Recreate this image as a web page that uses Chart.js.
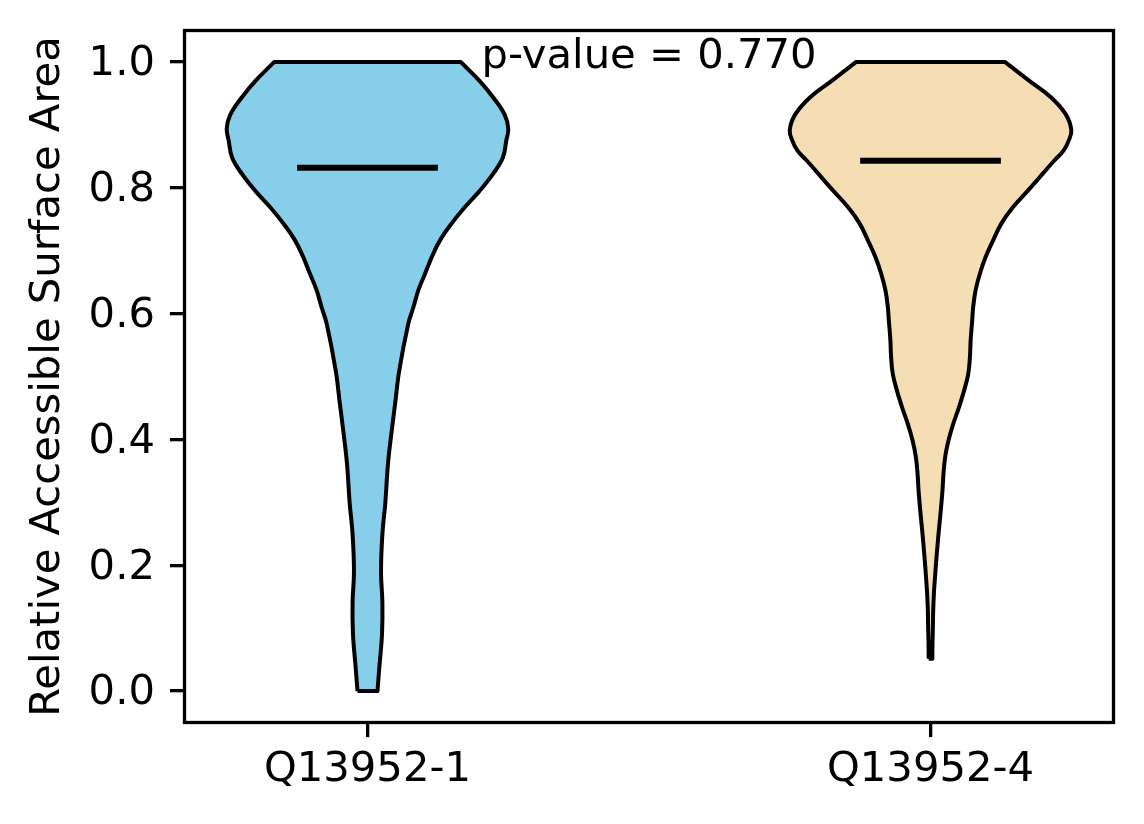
<!DOCTYPE html>
<html>
<head>
<meta charset="utf-8">
<script src="https://cdn.jsdelivr.net/npm/chart.js@4.4.0/dist/chart.umd.min.js"></script>
<style>
html,body{margin:0;padding:0;background:#ffffff;}
canvas{display:block;}
</style>
</head>
<body>
<canvas id="c" width="1144" height="824"></canvas>
<script>
// ---------------- data ----------------
const categories = ['Q13952-1', 'Q13952-4'];
const positions = [1, 2];
const yTicks = [0.0, 0.2, 0.4, 0.6, 0.8, 1.0];

// violin 1 (Q13952-1): y values (bottom -> top) and relative density (max = 1)
const v1Y = [0.0, 0.04, 0.09, 0.14, 0.19, 0.25, 0.30, 0.36, 0.41, 0.46, 0.51, 0.584, 0.610, 0.637,
             0.663, 0.689, 0.716, 0.743, 0.769, 0.795, 0.822, 0.848, 0.875, 0.894, 0.917, 0.944, 0.970, 1.0];
const v1Density = [0.071, 0.085, 0.103, 0.106, 0.096, 0.106, 0.127, 0.145, 0.170, 0.198, 0.226, 0.290, 0.326, 0.361,
                   0.408, 0.455, 0.514, 0.597, 0.691, 0.797, 0.892, 0.962, 0.986, 1.0, 0.973, 0.892, 0.796, 0.662];

// violin 2 (Q13952-4)
const v2Y = [0.0515, 0.075, 0.102, 0.128, 0.155, 0.181, 0.208, 0.250, 0.280, 0.319, 0.345, 0.372, 0.398,
             0.425, 0.451, 0.478, 0.504, 0.531, 0.557, 0.589, 0.610, 0.637, 0.663, 0.689, 0.716, 0.743,
             0.769, 0.795, 0.822, 0.843, 0.859, 0.875, 0.892, 0.917, 0.944, 0.970, 1.0];
const v2Density = [0.013, 0.014, 0.017, 0.019, 0.024, 0.032, 0.041, 0.057, 0.070, 0.085, 0.092, 0.104, 0.127,
                   0.162, 0.202, 0.239, 0.268, 0.280, 0.285, 0.296, 0.303, 0.320, 0.350, 0.390, 0.444, 0.503,
                   0.585, 0.690, 0.796, 0.878, 0.945, 0.982, 1.0, 0.960, 0.855, 0.702, 0.528];

const medians = [0.832, 0.843];
const pValueText = 'p-value = 0.770';
const pValueAt = [1.5, 0.99];
const yLabel = 'Relative Accessible Surface Area';

// ---------------- styling ----------------
const FONT = 41.7;
const VIOLIN_WIDTH = 0.5;
const MEDIAN_WIDTH = 0.25;
const colors = ['#87CEEB', '#F5DEB3'];

Chart.defaults.font.family = '"DejaVu Sans", sans-serif';
Chart.defaults.font.size = FONT;
Chart.defaults.color = '#000000';

function outline(pos, ys, dens) {
  const n = ys.length;
  const left = ys.map((y, i) => ({x: pos - dens[i] * VIOLIN_WIDTH / 2, y}));
  const right = ys.map((y, i) => ({x: pos + dens[i] * VIOLIN_WIDTH / 2, y})).reverse();
  return [left[0], ...left, left[n - 1], right[0], ...right, right[n - 1], left[0], left[0]];
}

const violinSets = [[v1Y, v1Density], [v2Y, v2Density]].map(([ys, ds], i) => ({
  data: outline(positions[i], ys, ds),
  showLine: true,
  fill: 'shape',
  backgroundColor: colors[i],
  borderColor: '#000000',
  borderWidth: 4,
  borderJoinStyle: 'round',
  tension: 0.4,
  pointRadius: 0,
  order: 1
}));

const medianSets = medians.map((m, i) => ({
  data: [{x: positions[i] - MEDIAN_WIDTH / 2, y: m}, {x: positions[i] + MEDIAN_WIDTH / 2, y: m}],
  showLine: true,
  fill: false,
  borderColor: '#000000',
  borderWidth: 6,
  borderCapStyle: 'butt',
  tension: 0,
  pointRadius: 0,
  order: 0
}));

const framePlugin = {
  id: 'frameAndText',
  afterDatasetsDraw(chart) {
    const {ctx, chartArea: a, scales} = chart;
    ctx.save();
    ctx.fillStyle = '#000000';
    ctx.font = FONT + 'px "DejaVu Sans", sans-serif';
    ctx.textAlign = 'center';
    ctx.textBaseline = 'alphabetic';
    ctx.fillText(pValueText, scales.x.getPixelForValue(pValueAt[0]), scales.y.getPixelForValue(pValueAt[1]));
    ctx.strokeStyle = '#000000';
    ctx.lineWidth = 3.3;
    ctx.strokeRect(a.left, a.top, a.right - a.left, a.bottom - a.top);
    ctx.restore();
  }
};

const gridOpts = {
  drawOnChartArea: false,
  drawTicks: true,
  tickLength: 14.6,
  color: '#000000',
  lineWidth: 3.3
};

new Chart(document.getElementById('c'), {
  type: 'scatter',
  data: {datasets: [...violinSets, ...medianSets]},
  options: {
    responsive: false,
    animation: false,
    devicePixelRatio: 1,
    layout: {padding: {top: 30.5, right: 30.5, left: 0, bottom: 0}, autoPadding: false},
    plugins: {legend: {display: false}, tooltip: {enabled: false}},
    scales: {
      x: {
        type: 'linear', min: 0.675, max: 2.325,
        afterBuildTicks: s => { s.ticks = positions.map(v => ({value: v})); },
        ticks: {
          callback: v => categories[positions.indexOf(v)],
          padding: 8.5, maxRotation: 0, autoSkip: false, color: '#000000'
        },
        grid: gridOpts,
        border: {display: false},
        afterFit: s => { s.height = 101.5; s.paddingLeft = 0; s.paddingRight = 0; }
      },
      y: {
        type: 'linear', min: -0.05, max: 1.05,
        afterBuildTicks: s => { s.ticks = yTicks.map(v => ({value: v})); },
        ticks: {callback: v => Number(v).toFixed(1), padding: 15, labelOffset: 2.5, autoSkip: false, color: '#000000'},
        grid: gridOpts,
        border: {display: false},
        title: {display: true, text: yLabel, color: '#000000', padding: {top: 23.6, bottom: 0}},
        afterFit: s => { s.width = 184.5; s.paddingTop = 0; s.paddingBottom = 0; }
      }
    }
  },
  plugins: [framePlugin]
});
</script>
</body>
</html>
